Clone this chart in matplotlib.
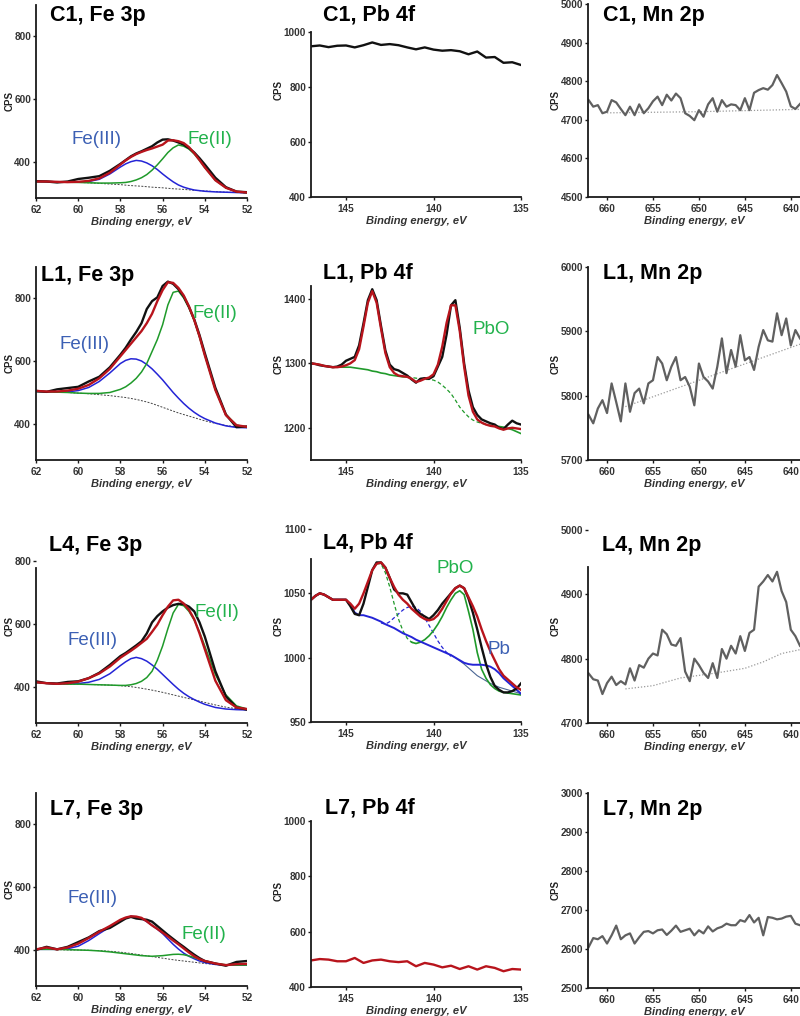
import numpy as np
import matplotlib
matplotlib.use("Agg")
import matplotlib.pyplot as plt

plt.rcParams['font.family'] = ['Liberation Sans', 'DejaVu Sans']

# ---------------- Fe 3p (0.5 eV steps, 0.25 eV across the peaks) ----------------
fe_E = [62, 61.5, 61, 60.5, 60, 59.5, 59, 58.5, 58,
        57.75, 57.5, 57.25, 57, 56.75, 56.5, 56.25, 56, 55.75, 55.5, 55.25, 55, 54.75, 54.5, 54.25,
        54, 53.5, 53, 52.5, 52]

c1_fe_bg = [338, 338, 337, 336, 335, 334, 332, 330, 328,
            326.5, 325, 324, 323, 321.5, 320, 319, 318, 316.5, 315, 314, 313, 311.5, 310, 309,
            308, 306, 304, 303, 302]
c1_fe_fe3 = [338, 338, 337, 336, 336, 338, 345, 362, 384,
             394, 401, 405, 403, 397, 388, 376, 362, 349, 337, 327, 320, 315, 311, 309,
             307, 305, 304, 303, 302]
c1_fe_fe2 = [338, 338, 337, 336, 335, 334, 333, 333, 334,
             335, 338, 343, 350, 360, 374, 391, 410, 430, 445, 454, 450, 441, 425, 405,
             382, 342, 318, 306, 302]
c1_fe_fit = [338, 338, 337, 336, 337, 340, 348, 366, 392,
             405, 416, 425, 432, 438, 443, 449, 455, 468, 469, 466, 460, 447, 428, 406,
             383, 342, 318, 306, 303]
c1_fe_raw = [339, 338, 335, 338, 346, 350, 355, 372, 394,
             406, 418, 427, 434, 442, 450, 462, 471, 472, 468, 462, 455, 444, 430, 412,
             392, 350, 320, 306, 304]

l1_fe_bg = [503, 502, 501, 500, 498, 496, 493, 490, 486,
            484, 481, 478, 474, 470, 465, 459, 453, 447, 441, 435, 430, 425, 420, 415,
            410, 402, 395, 391, 389]
l1_fe_fe3 = [503, 502, 501, 502, 506, 516, 535, 562, 592,
             602, 607, 606, 600, 589, 575, 558, 540, 520, 500, 482, 465, 450, 437, 426,
             417, 403, 394, 389, 388]
l1_fe_fe2 = [503, 502, 501, 500, 498, 497, 497, 500, 510,
             518, 530, 545, 565, 592, 630, 668, 715, 778, 818, 822, 800, 768, 728, 675,
             618, 508, 430, 397, 389]
l1_fe_fit = [505, 503, 503, 506, 512, 524, 545, 575, 615,
             635, 655, 675, 695, 720, 750, 790, 825, 850, 848, 832, 808, 773, 730, 678,
             618, 508, 428, 396, 391]
l1_fe_raw = [505, 502, 510, 514, 518, 535, 550, 580, 620,
             642, 668, 692, 720, 765, 790, 802, 838, 852, 845, 828, 805, 772, 732, 682,
             625, 515, 430, 390, 392]

l4_fe_bg = [414, 412, 410, 409, 409, 408, 407, 406, 404,
            402.5, 401, 398.5, 396, 393, 390, 386.5, 383, 379, 375, 371, 367, 363, 359, 355,
            351, 343, 336, 331, 329]
l4_fe_fe3 = [414, 412, 410, 410, 411, 415, 424, 442, 468,
             480, 490, 494, 490, 482, 470, 456, 440, 424, 408, 393, 380, 369, 360, 352,
             345, 335, 330, 328, 327]
l4_fe_fe2 = [414, 412, 410, 409, 409, 408, 407, 406, 405,
             405, 407, 411, 418, 430, 450, 485, 530, 585, 635, 662, 658, 640, 612, 575,
             530, 440, 375, 340, 330]
l4_fe_fit = [415, 412, 410, 412, 417, 428, 443, 465, 493,
             504, 515, 527, 540, 553, 575, 598, 628, 655, 675, 677, 665, 645, 615, 570,
             520, 420, 358, 335, 330]
l4_fe_raw = [418, 412, 411, 416, 418, 428, 445, 470, 498,
             508, 520, 532, 545, 570, 605, 625, 640, 652, 660, 664, 663, 655, 640, 605,
             560, 450, 370, 335, 328]

l7_fe_bg = [402, 402, 401, 400, 400, 399, 398, 396, 393,
            391, 389, 386.5, 384, 381.5, 379, 376.5, 374, 371.5, 369, 367, 365, 363, 361, 359,
            357, 354, 352, 352, 352]
l7_fe_fe3 = [402, 402, 402, 404, 412, 430, 452, 473, 495,
             502, 507, 505, 500, 490, 478, 466, 452, 435, 418, 403, 390, 380, 372, 365,
             360, 354, 352, 352, 352]
l7_fe_fe2 = [402, 402, 402, 401, 400, 399, 397, 394, 390,
             388, 386, 384, 382, 381, 380, 381, 382, 384, 386, 386.5, 385, 381, 376, 370,
             365, 357, 353, 352, 352]
l7_fe_fit = [402, 408, 402, 408, 420, 438, 458, 476, 496,
             503, 507, 506, 502, 491, 478, 467, 455, 443, 430, 418, 405, 392, 380, 371,
             365, 357, 352, 355, 356]
l7_fe_raw = [400, 410, 402, 410, 425, 440, 460, 470, 490,
             500, 505, 500, 498, 496, 490, 476, 462, 448, 435, 422, 410, 397, 385, 374,
             365, 357, 350, 362, 365]

# ---------------- Pb 4f ----------------
pb_E = np.linspace(147, 135, 49)         # 0.25 eV steps
pb_E_coarse = np.linspace(147, 135, 25)  # 0.5 eV steps

c1_pb_raw = [948, 951, 945, 950, 951, 944, 952, 962, 953, 956, 952, 944, 937,
             944, 936, 932, 934, 930, 919, 929, 907, 909, 888, 890, 880]
l7_pb_fit = [496, 501, 499, 493, 493, 505, 487, 496, 499, 493, 490, 493, 475,
             487, 481, 471, 477, 465, 475, 463, 475, 469, 457, 465, 463]

l1_pb_fit = [1300, 1299, 1298, 1296, 1295, 1294, 1294, 1295, 1297, 1300,
             1305, 1322, 1357, 1394, 1412, 1394, 1354, 1316, 1294, 1285,
             1281, 1280, 1279, 1276, 1271, 1273, 1276, 1278, 1283, 1298,
             1326, 1363, 1390, 1390, 1350, 1295, 1250, 1225, 1213, 1208,
             1205, 1203, 1202, 1199, 1197, 1199, 1200, 1199, 1198]
l1_pb_raw = [1300, 1299, 1297, 1296, 1295, 1294, 1295, 1298, 1304, 1307,
             1310, 1328, 1362, 1398, 1415, 1398, 1358, 1320, 1298, 1291,
             1289, 1285, 1281, 1275, 1270, 1276, 1277, 1276, 1280, 1295,
             1310, 1345, 1390, 1398, 1355, 1300, 1258, 1232, 1220, 1213,
             1210, 1207, 1205, 1200, 1198, 1205, 1211, 1207, 1205]
l1_pb_bg = [1300, 1299, 1298, 1296, 1295, 1294, 1294, 1294, 1294, 1294,
            1293, 1292, 1291, 1290, 1288, 1287, 1285, 1284, 1282, 1281,
            1280, 1279, 1279, 1278, 1277, 1276, 1275, 1275, 1274, 1271,
            1266, 1260, 1253, 1243, 1232, 1224, 1217, 1212, 1209, 1207,
            1205, 1204, 1203, 1202, 1201, 1199, 1197, 1194, 1191]

l4_pb_fit = [1045, 1048, 1050, 1049, 1047, 1045, 1045, 1045, 1045, 1042,
             1038, 1042, 1050, 1059, 1068, 1073, 1074, 1070, 1062, 1055,
             1049, 1045, 1042, 1038, 1035, 1032, 1030, 1029, 1030, 1033,
             1038, 1044, 1050, 1054, 1056, 1054, 1047, 1040, 1032, 1022,
             1013, 1005, 998, 991, 986, 983, 980, 977, 975]
l4_pb_raw = [1045, 1048, 1050, 1049, 1047, 1045, 1045, 1045, 1045, 1040,
             1034, 1033, 1042, 1055, 1068, 1074, 1074, 1070, 1062, 1053,
             1050, 1050, 1049, 1043, 1037, 1034, 1032, 1030, 1033, 1037,
             1042, 1046, 1050, 1054, 1056, 1054, 1046, 1035, 1022, 1008,
             995, 985, 978, 975, 973, 973, 974, 976, 980]
l4_pb_metal = [1045, 1048, 1050, 1049, 1047, 1045, 1045, 1045, 1045, 1041,
               1035, 1033, 1033, 1032, 1031, 1029.5, 1028, 1026, 1024.5, 1023,
               1021, 1019, 1017.5, 1016, 1014, 1012.5, 1011, 1009.5, 1008, 1006.5,
               1005, 1003.5, 1002, 1000, 998, 996, 995, 994.5, 994.5, 994.5,
               994, 993, 991, 988, 984, 981, 978, 975, 972]
# partial curves: energies 139 -> 135, 143 -> 139, 143.25 -> 141, 141.25 -> 135
l4_pb_bg_E = np.linspace(139, 135, 17)
l4_pb_bg = [1002, 1000, 997.5, 995, 992, 989, 986, 984, 982, 980, 978.5, 977, 976, 975, 974, 973, 972]
l4_pb_metal2_E = np.linspace(143, 139, 17)
l4_pb_metal2 = [1027, 1026, 1028, 1031, 1034, 1037, 1039, 1040, 1039, 1036, 1031, 1025, 1019, 1013, 1008, 1004, 1001]
l4_pb_oxide2_E = np.linspace(143.25, 141, 10)
l4_pb_oxide2 = [1073, 1073, 1066, 1055, 1042, 1030, 1021, 1015, 1012, 1011]
l4_pb_oxide_E = np.linspace(141.25, 135, 26)
l4_pb_oxide = [1012, 1011, 1012, 1014, 1017, 1021, 1026, 1032, 1039, 1045, 1050, 1052, 1049,
               1036, 1022, 1004, 991, 984, 979, 976, 974, 973, 972.5, 972, 971.5, 971]

# ---------------- Mn 2p (read every 0.5 eV, 662 -> 639 eV) ----------------
mn_E = np.linspace(662, 639, 47)

c1_mn = [4751, 4734, 4738, 4717, 4721, 4751, 4745, 4728, 4712, 4734, 4712, 4740,
         4717, 4730, 4748, 4760, 4738, 4765, 4750, 4768, 4756, 4717, 4710, 4699,
         4725, 4708, 4740, 4756, 4721, 4751, 4734, 4740, 4738, 4725, 4756, 4725,
         4770, 4777, 4782, 4778, 4790, 4816, 4795, 4773, 4735, 4728, 4741]
l1_mn = [5770, 5757, 5780, 5793, 5773, 5819, 5790, 5760, 5819, 5775, 5804, 5811,
         5788, 5819, 5824, 5860, 5850, 5824, 5845, 5860, 5824, 5829, 5814, 5785,
         5850, 5829, 5822, 5811, 5845, 5889, 5835, 5871, 5845, 5894, 5855, 5860,
         5840, 5876, 5902, 5886, 5884, 5928, 5894, 5920, 5878, 5902, 5889]
l4_mn = [4777, 4768, 4766, 4745, 4762, 4772, 4759, 4765, 4760, 4785, 4766, 4790,
         4786, 4800, 4808, 4805, 4845, 4838, 4822, 4820, 4832, 4780, 4765, 4800,
         4790, 4778, 4770, 4793, 4770, 4815, 4800, 4820, 4808, 4835, 4812, 4840,
         4845, 4912, 4920, 4930, 4920, 4935, 4905, 4888, 4845, 4835, 4820]
l7_mn = [2605, 2628, 2625, 2633, 2614, 2635, 2660, 2625, 2635, 2640, 2614, 2630,
         2644, 2646, 2640, 2648, 2650, 2636, 2647, 2660, 2644, 2648, 2652, 2635,
         2648, 2640, 2658, 2645, 2653, 2657, 2665, 2661, 2661, 2674, 2670, 2687,
         2668, 2680, 2635, 2682, 2680, 2676, 2678, 2683, 2685, 2665, 2661]

c1_mn_bg_E = [660, 650, 639]
c1_mn_bg = [4718, 4721, 4727]
l1_mn_bg_E = [658, 639]
l1_mn_bg = [5783, 5880]
l4_mn_bg_E = [658, 655, 652, 648, 645, 643, 641, 639]
l4_mn_bg = [4753, 4758, 4770, 4778, 4785, 4795, 4808, 4814]

# ---------------- figure ----------------
W, H = 800, 1016
fig = plt.figure(figsize=(W / 100, H / 100), dpi=100)

BLACK = '#111111'
RED = '#b8141c'
BLUE = '#2424d6'
GREEN = '#1f9a2a'
LBLUE = '#3c60b4'
LGREEN = '#22b24c'
GREY = '#606060'


def panel(left, top, right, bottom):
    return fig.add_axes([left / W, 1 - bottom / H, (right - left) / W, (bottom - top) / H])


def style(ax, xlim, ylim, xticks, yticks, ylab_x, ylab_y=0.5, spine_top=None):
    ax.set_xlim(xlim)
    ax.set_ylim(ylim)
    ax.set_xticks(xticks)
    ax.set_yticks(yticks)
    ax.patch.set_alpha(0)
    for s in ['top', 'right']:
        ax.spines[s].set_visible(False)
    for s in ['left', 'bottom']:
        ax.spines[s].set_linewidth(1.3)
        ax.spines[s].set_color('#1a1a1a')
    if spine_top is not None:
        ax.spines['left'].set_bounds(ylim[0], spine_top)
    ax.tick_params(axis='x', length=2, width=1, pad=3, labelsize=7.2, colors='#1a1a1a')
    ax.tick_params(axis='y', length=2, width=1, pad=1.5, labelsize=7.2, colors='#1a1a1a')
    for lab in ax.get_xticklabels() + ax.get_yticklabels():
        lab.set_fontweight('bold')
        lab.set_color('#333333')
    ax.set_xlabel('Binding energy, eV', fontsize=8, fontweight='bold',
                  fontstyle='italic', color='#333333', labelpad=1.5)
    ax.set_ylabel('CPS', fontsize=7, fontweight='bold', color='#222222')
    pos = ax.get_position()
    ax.yaxis.set_label_coords(ylab_x / (pos.width * W), ylab_y)


def title(x, y, txt):
    fig.text(x / W, 1 - y / H, txt, fontsize=15.5, fontweight='bold', ha='left', va='center')


def fe_panel(top, bg, fe3, fe2, fit, raw, lab3, lab2, spine_top=None):
    ax = panel(36, top, 247, top + 193.7)
    ax.plot(fe_E, bg, color='#444444', lw=0.7, ls=(0, (2, 1.5)))
    ax.plot(fe_E, fe3, color=BLUE, lw=1.1)
    ax.plot(fe_E, fe2, color=GREEN, lw=1.1)
    ax.plot(fe_E, raw, color=BLACK, lw=1.7)
    ax.plot(fe_E, fit, color=RED, lw=1.7)
    ax.text(lab3[0], lab3[1], 'Fe(III)', color=LBLUE, fontsize=13.5, ha='left', va='center')
    ax.text(lab2[0], lab2[1], 'Fe(II)', color=LGREEN, fontsize=13.5, ha='left', va='center')
    style(ax, (62, 52), (285, 900), [62, 60, 58, 56, 54, 52], [400, 600, 800], -21,
          spine_top=spine_top)
    return ax


def mn_panel(top, bottom, y, ylim, yticks, bgE=None, bg=None, spine_top=None):
    ax = panel(588, top, 800, bottom)
    if bg is not None:
        ax.plot(bgE, bg, color='#9a9a9a', lw=0.9, ls=(0, (1, 1.5)))
    ax.plot(mn_E, y, color=GREY, lw=1.6)
    style(ax, (662.07, 639.0), ylim, [660, 655, 650, 645, 640], yticks, -27,
          spine_top=spine_top)
    return ax


# ---- Fe 3p column ----
fe_panel(4.5, c1_fe_bg, c1_fe_fe3, c1_fe_fe2, c1_fe_fit, c1_fe_raw, (60.3, 470), (54.8, 470))
fe_panel(266.5, l1_fe_bg, l1_fe_fe3, l1_fe_fe2, l1_fe_fit, l1_fe_raw, (60.9, 651), (54.6, 752))
fe_panel(529.5, l4_fe_bg, l4_fe_fe3, l4_fe_fe2, l4_fe_fit, l4_fe_raw, (60.5, 549), (54.5, 638),
         spine_top=778)
fe_panel(792.5, l7_fe_bg, l7_fe_fe3, l7_fe_fe2, l7_fe_fit, l7_fe_raw, (60.5, 562), (55.1, 448))

# ---- Pb 4f column ----
pb_xticks = [145, 140, 135]

ax = panel(311, 32, 521, 197)
ax.plot(pb_E_coarse, c1_pb_raw, color=BLACK, lw=1.7)
style(ax, (147, 135), (400, 1000), pb_xticks, [400, 600, 800, 1000], -27, 0.65)

ax = panel(311, 286, 521, 460)
bg = np.array(l1_pb_bg, dtype=float)
ax.plot(pb_E[22:44], bg[22:44], color=GREEN, lw=0.9, ls=(0, (3, 2)))
ax.plot(pb_E[:23], bg[:23], color=GREEN, lw=1.2)
ax.plot(pb_E[43:], bg[43:], color=GREEN, lw=1.2)
ax.plot(pb_E, l1_pb_raw, color=BLACK, lw=1.7)
ax.plot(pb_E, l1_pb_fit, color=RED, lw=1.7)
ax.text(137.8, 1353, 'PbO', color=LGREEN, fontsize=13.5, ha='left', va='center')
style(ax, (147, 135), (1150, 1420), pb_xticks, [1200, 1300, 1400], -27, 0.55)

ax = panel(311, 529, 521, 722)
ax.plot(l4_pb_bg_E, l4_pb_bg, color='#4a6694', lw=0.8)
ax.plot(l4_pb_metal2_E, l4_pb_metal2, color=BLUE, lw=0.9, ls=(0, (3, 2)))
ax.plot(l4_pb_oxide2_E, l4_pb_oxide2, color=GREEN, lw=0.9, ls=(0, (3, 2)))
ax.plot(l4_pb_oxide_E, l4_pb_oxide, color=GREEN, lw=1.2)
ax.plot(pb_E, l4_pb_metal, color=BLUE, lw=1.4)
ax.plot(pb_E, l4_pb_raw, color=BLACK, lw=1.7)
ax.plot(pb_E, l4_pb_fit, color=RED, lw=1.7)
ax.text(139.8, 1069, 'PbO', color=LGREEN, fontsize=13.5, ha='left', va='center')
ax.text(136.9, 1006, 'Pb', color=LBLUE, fontsize=13.5, ha='left', va='center')
style(ax, (147, 135), (950, 1100), pb_xticks, [950, 1000, 1050, 1100], -27, spine_top=1077)

ax = panel(311, 821, 521, 987)
ax.plot(pb_E_coarse, l7_pb_fit, color=RED, lw=1.7)
style(ax, (147, 135), (400, 1000), pb_xticks, [400, 600, 800, 1000], -27, 0.58)

# ---- Mn 2p column ----
mn_panel(4, 197, c1_mn, (4500, 5000), [4500, 4600, 4700, 4800, 4900, 5000], c1_mn_bg_E, c1_mn_bg)
mn_panel(267, 460, l1_mn, (5700, 6000), [5700, 5800, 5900, 6000], l1_mn_bg_E, l1_mn_bg)
mn_panel(530, 723, l4_mn, (4700, 5000), [4700, 4800, 4900, 5000], l4_mn_bg_E, l4_mn_bg,
         spine_top=4942)
mn_panel(793, 988, l7_mn, (2500, 3000), [2500, 2600, 2700, 2800, 2900, 3000])

# ---- panel titles ----
for x, y, t in [(50, 15, 'C1, Fe 3p'), (323, 15, 'C1, Pb 4f'), (603, 15, 'C1, Mn 2p'),
                (41, 275, 'L1, Fe 3p'), (323, 273, 'L1, Pb 4f'), (603, 273, 'L1, Mn 2p'),
                (49, 545, 'L4, Fe 3p'), (323, 543, 'L4, Pb 4f'), (602, 545, 'L4, Mn 2p'),
                (50, 810, 'L7, Fe 3p'), (325, 808, 'L7, Pb 4f'), (603, 810, 'L7, Mn 2p')]:
    title(x, y, t)

fig.savefig('out.png', dpi=100)
